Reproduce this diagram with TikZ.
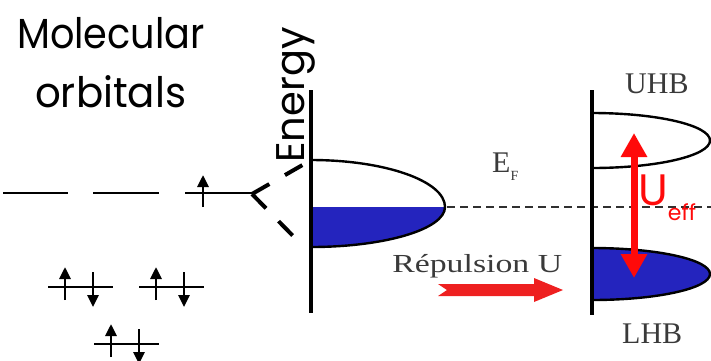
\documentclass[tikz,border=0pt]{standalone}
\usepackage{fontspec}
\setmainfont{Liberation Serif}
\newfontfamily\handfont{Poppins}
\usetikzlibrary{arrows.meta}
\definecolor{BandBlue}  {HTML}{2424BE}
\definecolor{GapRed}    {HTML}{FF0A0A}
\definecolor{PushRed}   {HTML}{EE2020}
\definecolor{LabelGrey} {HTML}{3A3A3A}
\definecolor{DashGrey}  {HTML}{303030}

\tikzset{
  level/.style={line width=1.8pt},
  spin/.style={line width=2.8pt, -{Triangle[width=11pt,length=12pt]}},
  band/.style={line width=2.4pt},
  axis/.style={line width=3.2pt},
  hand/.style={inner sep=0pt, anchor=base west},
  serif/.style={inner sep=0pt, anchor=base west, text=LabelGrey},
}

% level with two paired spins: x of left end, y
\newcommand{\pairlevel}[2]{%
  \draw[level] (#1,#2) -- ++(65,0);
  \draw[spin] (#1+17,#2+13) -- (#1+17,#2-20);
  \draw[spin] (#1+45,#2-15) -- (#1+45,#2+20);
}

\begin{document}
\begin{tikzpicture}[x=1pt, y=-1pt]
  \useasboundingbox (0,0) rectangle (711,360);

  % title
  \node[hand, xscale=0.91, font=\handfont\fontsize{42}{42}\selectfont] (mo) at (17,48) {Molecular};
  \node[hand, xscale=0.96, font=\handfont\fontsize{42}{42}\selectfont] (orb) at (35,107) {orbitals};

  % orbital levels
  \draw[level] (3,193) -- (68,193);
  \draw[level] (93,193) -- (159,193);
  \draw[level] (185,193) -- (252,193);
  \draw[spin] (203,207) -- (203,175);
  \pairlevel{48}{287}
  \pairlevel{139}{287}
  \pairlevel{94}{344}

  % left band
  \fill[BandBlue] (311,207) -- (445,207)
    arc[start angle=0, end angle=90, x radius=134, y radius=40] -- cycle;
  \draw[band] (311,160)
    arc[start angle=-90, end angle=0, x radius=134, y radius=47]
    arc[start angle=0, end angle=90, x radius=134, y radius=40];

  % Fermi level
  \draw[DashGrey, line width=2pt, dash pattern=on 8pt off 5pt] (447,207) -- (711,207);

  % Hubbard bands
  \draw[band] (592,113)
    arc[start angle=-90, end angle=90, x radius=118, y radius=27.5];
  \filldraw[band, fill=BandBlue] (592,248)
    arc[start angle=-90, end angle=90, x radius=118, y radius=26] -- cycle;

  % axes
  \draw[axis] (311,90) -- (311,313);
  \draw[axis] (592,90) -- (592,315);

  % link from the orbital to the band
  \coordinate (somo) at (252,194);
  \coordinate (bandtop) at (306,163);
  \coordinate (bandbot) at (296,239);
  \draw[line width=4pt, dash pattern=on 20pt off 18pt] (somo) -- (bandtop);
  \draw[line width=4pt, dash pattern=on 20pt off 18pt] (somo) -- (bandbot);

  % repulsion arrow
  \fill[PushRed] (438,284) -- (534,284) -- (534,278) -- (563,290)
    -- (534,302) -- (534,296) -- (438,296) -- (447,290) -- cycle;

  % U_eff arrow
  \coordinate (gaptop) at (634,133);
  \coordinate (gapbot) at (634,278);
  \draw[GapRed, line width=7pt, {Triangle[width=25pt,length=24pt]}-{Triangle[width=25pt,length=24pt]}]
    (gaptop) -- (gapbot);

  % labels
  \node[hand, rotate=90, font=\handfont\fontsize{40}{40}\selectfont] (energy) at (304,163) {Energy};
  \node[serif, font=\fontsize{30}{30}\selectfont] (ef) at (492,172)
    {E\raisebox{-8pt}{\fontsize{14}{14}\selectfont F}};
  \node[serif, font=\fontsize{26}{26}\selectfont, xscale=1.3] (rep) at (392,272) {Répulsion U};
  \node[serif, font=\fontsize{30}{30}\selectfont] (uhb) at (625,93) {UHB};
  \node[serif, font=\fontsize{30}{30}\selectfont] (lhb) at (622,343) {LHB};
  \node[hand, text=GapRed, font=\handfont\fontsize{44}{44}\selectfont] (ueff) at (638,205)
    {U\raisebox{-15pt}{\fontsize{22}{22}\selectfont eff}};
\end{tikzpicture}
\end{document}
